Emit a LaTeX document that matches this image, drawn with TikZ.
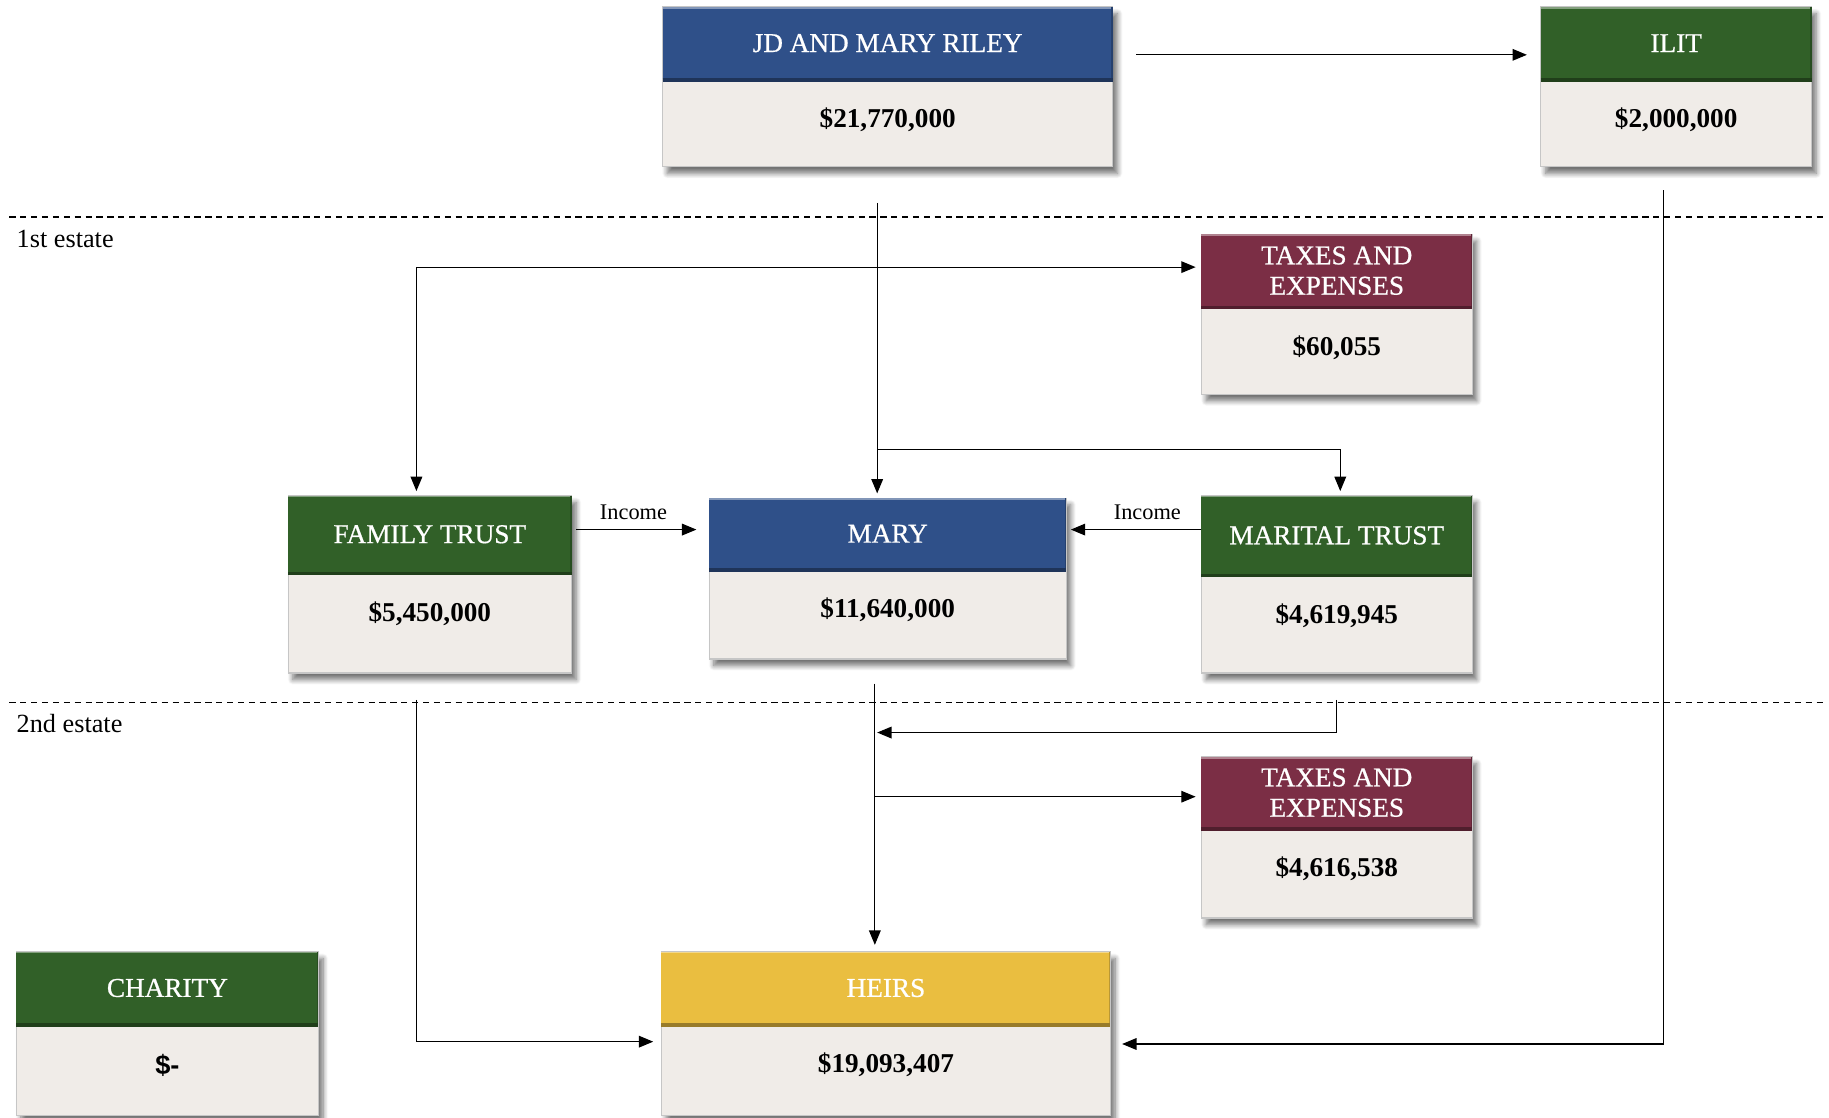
\documentclass[tikz,border=0pt]{standalone}
\usepackage{fontspec}
\setmainfont{Liberation Serif}
\newfontfamily\arialf{Liberation Sans}
\newfontfamily\hdrfont[FakeBold=0.7]{Liberation Serif}
\usetikzlibrary{arrows.meta,fit,shadows,shadows.blur,calc}
\definecolor{blueH}{RGB}{47,80,137}
\definecolor{greenH}{RGB}{49,96,40}
\definecolor{maroonH}{RGB}{123,46,69}
\definecolor{goldH}{RGB}{234,190,64}
\definecolor{bodyC}{RGB}{240,236,232}
\tikzset{
  bodybox/.style={draw=gray!45, line width=0.6pt, fill=bodyC, inner sep=0pt, outer sep=0pt,
    blur shadow={shadow xshift=2.4pt, shadow yshift=-3.4pt, shadow blur steps=8, shadow blur radius=2.6pt, shadow opacity=55}},
  hdrbox/.style={draw=none, inner sep=0pt, outer sep=0pt},
  hdrtext/.style={text=white, inner sep=0pt, align=center, font=\hdrfont\fontsize{14}{15.6}\selectfont},
  amttext/.style={text=black, inner sep=0pt, font=\fontsize{14}{16}\selectfont\bfseries},
  arr/.style={-{Triangle[length=7.4pt,width=6pt]}, line width=0.6pt, black},
  dashline/.style={line width=0.7pt, dash pattern=on 3.2pt off 2.4pt},
  estlabel/.style={inner sep=0pt, anchor=west, font=\fontsize{13.5}{15}\selectfont},
  inclabel/.style={inner sep=0pt, above=4.6pt, font=\fontsize{11.5}{13}\selectfont}
}
% #1 name, #2 left, #3 top, #4 right, #5 bottom, #6 header bottom, #7 colour, #8 title, #9 amount
\newcommand\ebox[9]{%
  \node[bodybox, fit={(#2,#3) (#4,#5)}] (#1) {};
  \node[hdrbox, fill=#7, fit={(#2,#3) (#4,#6)}] (#1-h) {};
  \draw[#7!60!white, line width=0.8pt] ([yshift=-0.4pt]#1-h.north west) -- ([yshift=-0.4pt]#1-h.north east);
  \draw[#7!80!black, line width=0.8pt] ([xshift=-0.4pt]#1-h.north east) -- ([xshift=-0.4pt]#1-h.south east);
  \draw[#7!65!black, line width=1.8pt] ([yshift=0.9pt]#1-h.south west) -- ([yshift=0.9pt]#1-h.south east);
  \node[hdrtext] (#1-t) at ([yshift=0.6pt]#1-h.center) {#8};
  \node[amttext] (#1-a) at ([yshift=-19.8pt]#1-h.south) {#9};
}
\begin{document}
\begin{tikzpicture}[x=0.6pt,y=-0.6pt]
\useasboundingbox (0,0) rectangle (1568,958);

% estate separators
\draw[dashline] (8,186) -- (1563,186);
\draw[dashline] (8,602) -- (1563,602);
\node[estlabel] (est1) at (14,205) {1st estate};
\node[estlabel] (est2) at (14,620) {2nd estate};

% boxes
\ebox{jd}{568}{6}{954}{143}{70}{blueH}{JD AND MARY RILEY}{\$21,770,000}
\ebox{ilit}{1321}{6}{1553}{143}{70}{greenH}{ILIT}{\$2,000,000}
\ebox{taxa}{1030}{201}{1262}{338}{265}{maroonH}{TAXES AND\\EXPENSES}{\$60,055}
\ebox{fam}{247}{425}{490}{577}{493}{greenH}{FAMILY TRUST}{\$5,450,000}
\ebox{mary}{608}{427}{914}{565}{490}{blueH}{MARY}{\$11,640,000}
\ebox{mar}{1030}{425}{1262}{577}{495}{greenH}{MARITAL TRUST}{\$4,619,945}
\ebox{taxb}{1030}{649}{1262}{787}{712}{maroonH}{TAXES AND\\EXPENSES}{\$4,616,538}
\ebox{charity}{14}{816}{273}{956}{880}{greenH}{CHARITY}{\arialf\fontsize{14}{16}\selectfont\$-}
\ebox{heirs}{567}{816}{952}{956}{880}{goldH}{HEIRS}{\$19,093,407}

% helper coordinates
\coordinate (r1) at (0,47);
\coordinate (tx) at (752,0);
\coordinate (j1) at (752,229);
\coordinate (j2) at (752,385);
\coordinate (famx) at (357,0);
\coordinate (marx) at (1149,0);
\coordinate (inc) at (0,454);
\coordinate (mx) at (750,0);
\coordinate (mk) at (1146,628);
\coordinate (k9) at (0,683);
\coordinate (k10) at (0,893);
\coordinate (ix) at (1426,0);
\coordinate (k11) at (0,895);

% connectors
\draw[arr, shorten <=12pt, shorten >=7.2pt] (jd.east |- r1) -- (ilit.west |- r1);
\draw[arr, shorten <=18.6pt, shorten >=2.4pt] (tx |- jd.south) -- (tx |- mary.north);
\draw[arr, shorten >=2.4pt] (j1) -| (famx |- fam.north);
\draw[arr, shorten >=3pt] (j1) -- (taxa.west |- j1);
\draw[arr, shorten >=2.4pt] (j2) -| (marx |- mar.north);
\draw[arr, shorten <=2.4pt, shorten >=6.6pt] (fam.east |- inc) -- node[inclabel, pos=0.45] (inc1) {Income} (mary.west |- inc);
\draw[arr, shorten >=2.4pt] (mar.west |- inc) -- node[inclabel, pos=0.4] (inc2) {Income} (mary.east |- inc);
\draw[arr, shorten <=12.6pt, shorten >=3.6pt] (mx |- mary.south) -- (mx |- heirs.north);
\draw[arr, shorten <=13.8pt, shorten >=1.2pt] (mk |- mar.south) -- (mk) -- (mx |- mk);
\draw[arr, shorten >=3pt] (mx |- k9) -- (taxb.west |- k9);
\draw[arr, shorten <=13.8pt, shorten >=4.2pt] (famx |- fam.south) |- (heirs.west |- k10);
\draw[arr, shorten <=12pt, shorten >=6pt] (ix |- ilit.south) |- (heirs.east |- k11);
\end{tikzpicture}
\end{document}
